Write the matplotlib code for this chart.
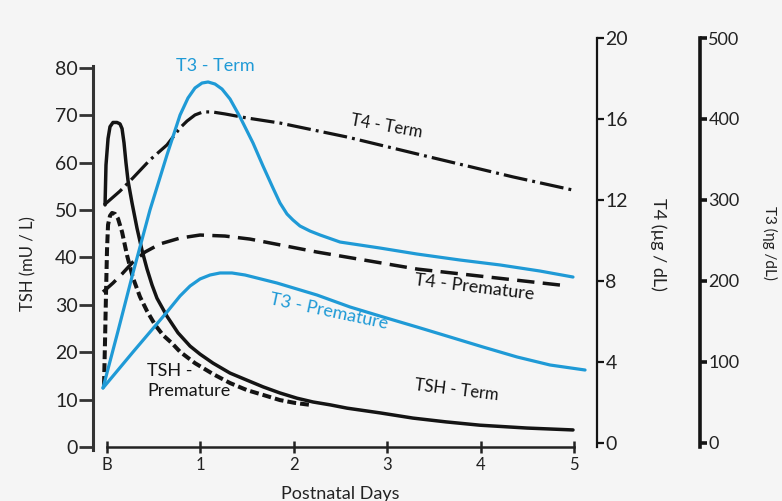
import matplotlib.pyplot as plt

# Neonatal thyroid hormone curves, B = birth, then postnatal days 1..5
days = [0, 1, 2, 3, 4, 5]
day_labels = ['B', '1', '2', '3', '4', '5']

tsh_ticks = list(range(0, 81, 10))
t4_ticks = [0, 4, 8, 12, 16, 20]
t3_ticks = [0, 100, 200, 300, 400, 500]

# TSH (mU/L)
tsh_term_d = [-0.021, -0.011, 0.011, 0.032, 0.064, 0.107, 0.139, 0.161, 0.182, 0.203,
              0.225, 0.268, 0.321, 0.375, 0.428, 0.482, 0.535, 0.642, 0.760, 0.889,
              0.996, 1.135, 1.317, 1.499, 1.670, 1.852, 2.034, 2.206, 2.388, 2.570,
              2.923, 3.276, 3.630, 3.994, 4.497, 4.989]
tsh_term = [51.1, 59.5, 65.1, 67.6, 68.5, 68.5, 68.2, 67.2, 64.2, 60.0,
            56.2, 51.5, 46.2, 41.5, 37.6, 34.2, 31.4, 27.6, 24.1, 21.3,
            19.6, 17.7, 15.6, 14.1, 12.7, 11.4, 10.3, 9.5, 8.9, 8.2,
            7.2, 6.1, 5.3, 4.6, 4.0, 3.6]
tsh_prem_d = [-0.032, -0.021, -0.011, 0.0, 0.011, 0.032, 0.054, 0.086, 0.118, 0.161,
              0.214, 0.278, 0.353, 0.428, 0.514, 0.600, 0.696, 0.782, 0.942, 1.135,
              1.317, 1.499, 1.670, 1.852, 2.013, 2.173]
tsh_prem = [13.1, 22.6, 32.1, 41.6, 46.9, 48.8, 49.4, 49.2, 48.2, 45.4,
            40.5, 35.7, 31.7, 28.7, 25.8, 23.6, 21.9, 20.1, 17.7, 15.4,
            13.5, 12.0, 11.0, 9.9, 9.3, 8.9]

# T4 (ug/dL)
t4_term_d = [-0.032, 0.139, 0.278, 0.460, 0.642, 0.782, 0.857, 0.942, 1.028, 1.124,
             1.263, 1.499, 1.852, 2.570, 3.458, 4.347, 4.989]
t4_term = [11.75, 12.44, 13.09, 13.98, 14.72, 15.56, 15.90, 16.20, 16.35, 16.35,
           16.25, 16.05, 15.80, 15.11, 14.12, 13.14, 12.49]
t4_prem_d = [-0.043, 0.064, 0.161, 0.278, 0.407, 0.567, 0.782, 0.996, 1.263, 1.531,
             2.248, 3.319, 4.850]
t4_prem = [7.46, 7.90, 8.35, 8.94, 9.43, 9.83, 10.12, 10.27, 10.22, 10.07,
           9.43, 8.59, 7.80]

# T3 (ng/dL)
t3_term_d = [-0.043, 0.118, 0.278, 0.460, 0.642, 0.782, 0.867, 0.942, 1.017, 1.082,
             1.156, 1.231, 1.317, 1.424, 1.563, 1.670, 1.777, 1.852, 1.927, 1.991,
             2.066, 2.173, 2.281, 2.495, 2.923, 3.319, 3.779, 4.208, 4.636, 4.989]
t3_term = [67.9, 138.3, 209.9, 287.7, 355.6, 404.9, 425.9, 438.3, 444.4, 445.7,
           443.2, 437.0, 424.7, 402.5, 370.4, 342.0, 314.8, 296.3, 282.7, 275.3,
           267.9, 261.7, 256.8, 248.1, 240.7, 233.3, 225.9, 219.8, 212.3, 204.9]
t3_prem_d = [-0.043, 0.278, 0.460, 0.642, 0.782, 0.889, 0.996, 1.103, 1.210, 1.338,
             1.478, 1.606, 1.820, 2.248, 2.602, 2.955, 3.319, 3.672, 4.026, 4.390,
             4.743, 5.118]
t3_prem = [67.9, 112.3, 137.0, 161.7, 181.5, 193.8, 202.5, 207.4, 209.9, 209.9,
           207.4, 203.7, 197.5, 182.7, 167.9, 155.6, 143.2, 130.9, 118.5, 106.2,
           96.3, 90.1]

W, H = 782, 501
BLUE = '#1f9ad6'
INK = '#141414'
TXT = '#222222'
plt.rcParams['font.family'] = ['Lato', 'DejaVu Sans']


def px(x, y):
    # pixel position -> figure fraction
    return x / W, (H - y) / H


fig = plt.figure(figsize=(W / 100, H / 100), dpi=100, facecolor='#f5f5f5')
ax = fig.add_axes([93 / W, (H - 447) / H, (597 - 93) / W, (447 - 38) / H])
ax.set_facecolor('none')
ax4 = ax.twinx()
ax3 = ax.twinx()

ax.set_xlim(-0.15, 5.246)
ax.set_ylim(0, 86.33)
ax4.set_ylim(-0.1975, 20)
ax3.set_ylim(-4.94, 500)

# TSH axis on the left, day axis along the bottom
for s in ['top', 'right']:
    ax.spines[s].set_visible(False)
ax.spines['left'].set_bounds(-0.6, 80.4)
ax.spines['left'].set_linewidth(2.2)
ax.spines['left'].set_color('#333333')
ax.spines['bottom'].set_bounds(0, 5)
ax.spines['bottom'].set_linewidth(1.8)
ax.spines['bottom'].set_color(TXT)
ax.set_yticks(tsh_ticks)
ax.tick_params(axis='y', direction='out', length=10, width=2, color='#333333',
               labelsize=14, pad=1, labelcolor=TXT)
ax.set_xticks(days)
ax.set_xticklabels(day_labels)
ax.tick_params(axis='x', direction='inout', length=9, width=1.8, color=TXT,
               labelsize=12, pad=3, labelcolor=TXT)

# T4 and T3 axes on the right
for a in (ax4, ax3):
    for s in ['left', 'top', 'bottom']:
        a.spines[s].set_visible(False)
    a.spines['right'].set_color(INK)
ax4.spines['right'].set_linewidth(1.6)
ax4.set_yticks(t4_ticks)
ax4.tick_params(axis='y', direction='out', length=5, width=1.6, color=INK,
                labelsize=14, pad=1, labelcolor=TXT)
ax3.spines['right'].set_position(('axes', 1 + 103 / 504))
ax3.spines['right'].set_linewidth(2.6)
ax3.set_yticks(t3_ticks)
ax3.tick_params(axis='y', direction='out', length=5, width=2.6, color=INK,
                labelsize=13, pad=1, labelcolor=TXT)

# curves
ax.plot(tsh_term_d, tsh_term, color=INK, lw=2.5, solid_capstyle='round',
        solid_joinstyle='round', zorder=3)
ax.plot(tsh_prem_d, tsh_prem, color=INK, lw=2.9, linestyle=(0, (2.2, 1.0)), zorder=3)
ax4.plot(t4_term_d, t4_term, color=INK, lw=2.3, linestyle=(0, (7.5, 1.6, 0.9, 1.6)))
ax4.plot(t4_prem_d, t4_prem, color=INK, lw=2.5, linestyle=(0, (5.0, 2.4)))
ax3.plot(t3_term_d, t3_term, color=BLUE, lw=2.3, solid_capstyle='round',
         solid_joinstyle='round')
ax3.plot(t3_prem_d, t3_prem, color=BLUE, lw=2.3, solid_capstyle='round',
         solid_joinstyle='round')

# axis titles
fig.text(*px(28, 264), 'TSH (mU / L)', rotation=90, ha='center', va='center',
         fontsize=12, color=TXT)
fig.text(*px(658, 244), 'T4 (µg / dL)', rotation=270, ha='center', va='center',
         fontsize=13, color=TXT)
fig.text(*px(770, 243), 'T3 (ηg /dL)', rotation=270, ha='center', va='center',
         fontsize=11, color=TXT)
fig.text(*px(340, 494), 'Postnatal Days', ha='center', va='center',
         fontsize=13, color=TXT)

# curve labels
fig.text(*px(215, 66), 'T3 - Term', ha='center', va='center', fontsize=13, color=BLUE)
fig.text(*px(387, 126), 'T4 - Term', ha='center', va='center', fontsize=12,
         color=INK, rotation=-10)
fig.text(*px(474, 287), 'T4 - Premature', ha='center', va='center', fontsize=13,
         color=INK, rotation=-7)
fig.text(*px(329, 312), 'T3 - Premature', ha='center', va='center', fontsize=13,
         color=BLUE, rotation=-12)
fig.text(*px(457, 390), 'TSH - Term', ha='center', va='center', fontsize=12,
         color=INK, rotation=-7)
fig.text(*px(147, 381), 'TSH -\nPremature', ha='left', va='center', fontsize=13,
         color=INK, linespacing=1.25)

fig.savefig('out.png', dpi=100, facecolor=fig.get_facecolor())
